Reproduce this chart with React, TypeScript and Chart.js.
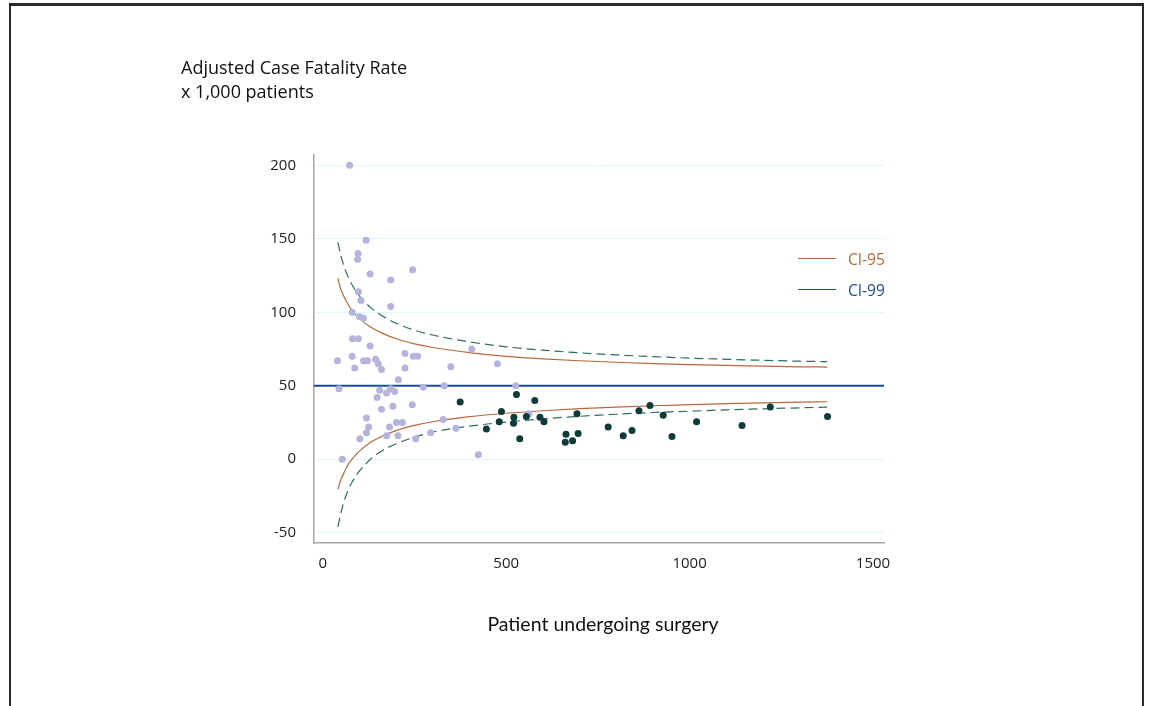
import React, { useEffect, useRef } from "react";
import { Chart, registerables } from "chart.js";

Chart.register(...registerables);

// ---- data ----
const X_TICKS = [0, 500, 1000, 1500];
const Y_TICKS = [-50, 0, 50, 100, 150, 200];

const TARGET_X = [-24, 1530];
const TARGET_Y = [50, 50];

const CI_X = [41, 50, 60, 70, 80, 90, 100, 130, 160, 200, 250, 300, 400, 500, 600, 700, 800, 900, 1000, 1100, 1200, 1300, 1375];
const UPPER_95 = [123, 115, 109.5, 104.8, 101.3, 98.2, 95.7, 90, 86, 82, 78.5, 76, 72.5, 70, 68.3, 67, 66, 65.1, 64.4, 63.8, 63.3, 62.9, 62.7];
const LOWER_95 = [-20.5, -13.5, -8, -3.2, 0, 3, 5.5, 11.5, 15.5, 19.5, 23, 25.5, 29, 31.3, 33, 34.4, 35.5, 36.4, 37.1, 37.8, 38.3, 38.8, 39.1];
const UPPER_99 = [147.6, 138, 129.5, 123.5, 118.5, 114.5, 111, 103.3, 97.8, 92.5, 87.8, 84.5, 79.8, 76.5, 74.2, 72.4, 71, 69.8, 68.8, 68, 67.3, 66.7, 66.4];
const LOWER_99 = [-46, -36, -27, -20.5, -15.5, -11.5, -8, 0, 5.5, 10.5, 15, 18.5, 22.5, 25.3, 27.5, 29.2, 30.6, 31.8, 32.7, 33.6, 34.3, 35, 35.4];

const SMALL_X = [73, 118, 96, 95, 129, 245, 185, 97, 104, 185, 80, 100, 111, 81, 97, 129, 40, 80, 87, 111, 122, 144, 151, 160, 224, 247, 259, 224, 349, 406, 476, 206, 44, 155, 185, 274, 331, 148, 174, 196, 160, 191, 244, 119, 125, 119, 101, 182, 201, 217, 174, 205, 253, 294, 328, 363, 424, 53, 526, 562];
const SMALL_Y = [200, 149, 140, 136, 126, 129, 122, 114, 108, 104, 100, 97, 96, 82, 82, 77, 67, 70, 62, 67, 67, 68, 65, 61, 72, 70, 70, 62, 63, 75, 65, 54, 48, 47, 48, 49, 50, 42, 45, 46, 34, 36, 37, 28, 22, 18, 14, 22, 25, 25, 16, 16, 14, 18, 27, 21, 3, 0, 50, 31];

const LARGE_X = [374.5, 528, 578, 487, 481, 446, 521, 520, 555, 537, 592, 603, 693, 663, 661, 681, 696, 778, 819, 843, 862, 892, 928, 952, 1019, 1143, 1220, 1376];
const LARGE_Y = [39, 44, 40, 32.5, 25.5, 20.5, 28.5, 24.5, 29, 14, 28.5, 25.5, 31, 17, 11.5, 12.5, 17.5, 22, 16, 19.5, 33, 36.5, 30, 15.5, 25.5, 23, 35.5, 29];

const LEGEND_LABELS = ["CI-95", "CI-99"];
const Y_TITLE = ["Adjusted Case Fatality Rate", "x 1,000 patients"];
const X_TITLE = "Patient undergoing surgery";

const ORANGE = "#b8683a";
const TEAL = "#2f6a64";
const BLUE = "#1d4b98";
const LILAC = "#b4b4dc";
const DARK = "#0d3b38";

const pts = (xs: number[], ys: number[]) => xs.map((x, i) => ({ x, y: ys[i] }));

export default function App() {
  const ref = useRef<HTMLCanvasElement | null>(null);

  useEffect(() => {
    if (!ref.current) return;
    const tickFont = { family: "'Open Sans', sans-serif", size: 15 };
    const curve = { showLine: true, borderWidth: 1.2, pointRadius: 0, cubicInterpolationMode: "monotone", order: 3 };
    const chart = new Chart(ref.current, {
      type: "scatter",
      data: {
        datasets: [
          { ...curve, label: "Upper 95", data: pts(CI_X, UPPER_95), borderColor: ORANGE },
          { ...curve, label: "Lower 95", data: pts(CI_X, LOWER_95), borderColor: ORANGE },
          { ...curve, label: "Upper 99", data: pts(CI_X, UPPER_99), borderColor: TEAL, borderDash: [9, 5] },
          { ...curve, label: "Lower 99", data: pts(CI_X, LOWER_99), borderColor: TEAL, borderDash: [9, 5] },
          { label: "Target", data: pts(TARGET_X, TARGET_Y), showLine: true, borderColor: BLUE, borderWidth: 2, pointRadius: 0, order: 2 },
          { label: "Small", data: pts(SMALL_X, SMALL_Y), backgroundColor: LILAC, borderWidth: 0, pointRadius: 3.5, order: 1 },
          { label: "Large", data: pts(LARGE_X, LARGE_Y), backgroundColor: DARK, borderWidth: 0, pointRadius: 3.5, order: 0 },
        ],
      },
      options: {
        animation: false,
        responsive: false,
        maintainAspectRatio: false,
        layout: { padding: { left: 0, top: 155, right: 267, bottom: 0 } },
        plugins: { legend: { display: false }, tooltip: { enabled: false }, title: { display: false } },
        scales: {
          x: {
            type: "linear",
            min: -24,
            max: 1530,
            afterBuildTicks: (s: any) => { s.ticks = X_TICKS.map((v) => ({ value: v })); },
            afterFit: (s: any) => { s.height = 163; },
            grid: { display: true, drawOnChartArea: false, drawTicks: false },
            border: { display: true, color: "#a6a6a6", width: 1.5 },
            ticks: { font: tickFont, color: "#222", padding: 12, maxRotation: 0, callback: (v: any) => String(v) },
          },
          y: {
            type: "linear",
            min: -57,
            max: 207,
            afterBuildTicks: (s: any) => { s.ticks = Y_TICKS.map((v) => ({ value: v })); },
            afterFit: (s: any) => { s.width = 314; },
            grid: { color: "#dcf9f9", lineWidth: 1, drawTicks: false },
            border: { display: true, color: "#a6a6a6", width: 1.5 },
            ticks: { font: tickFont, color: "#222", padding: 18, callback: (v: any) => String(v) },
          },
        },
      },
    } as any);
    return () => chart.destroy();
  }, []);

  const textFont = "'Open Sans', sans-serif";
  return (
    <div style={{ position: "fixed", left: 0, top: 0, width: 1151, height: 706, overflow: "hidden", background: "#fff" }}>
      <div style={{ position: "absolute", left: 9, top: 3, width: 1135, height: 760, boxSizing: "border-box", border: "2px solid #2a2a2a", borderTopWidth: 3 }} />
      <canvas ref={ref} width={1151} height={706} style={{ position: "absolute", left: 0, top: 0, width: 1151, height: 706 }} />
      <div style={{ position: "absolute", left: 181, top: 55, fontFamily: textFont, fontSize: 18, lineHeight: "24px", color: "#111", whiteSpace: "nowrap" }}>
        <div>{Y_TITLE[0]}</div>
        <div>{Y_TITLE[1]}</div>
      </div>
      <div style={{ position: "absolute", left: 403, width: 400, top: 612, textAlign: "center", fontFamily: "Lato, sans-serif", fontSize: 19.5, color: "#111", whiteSpace: "nowrap" }}>
        {X_TITLE}
      </div>
      <div style={{ position: "absolute", left: 798, top: 258, width: 38, height: 0, borderTop: `1.5px solid ${ORANGE}` }} />
      <div style={{ position: "absolute", left: 848, top: 248, fontFamily: textFont, fontSize: 15.5, color: ORANGE, whiteSpace: "nowrap" }}>{LEGEND_LABELS[0]}</div>
      <div style={{ position: "absolute", left: 798, top: 289, width: 38, height: 0, borderTop: `1.5px solid ${BLUE}` }} />
      <div style={{ position: "absolute", left: 848, top: 279, fontFamily: textFont, fontSize: 15.5, color: BLUE, whiteSpace: "nowrap" }}>{LEGEND_LABELS[1]}</div>
    </div>
  );
}
